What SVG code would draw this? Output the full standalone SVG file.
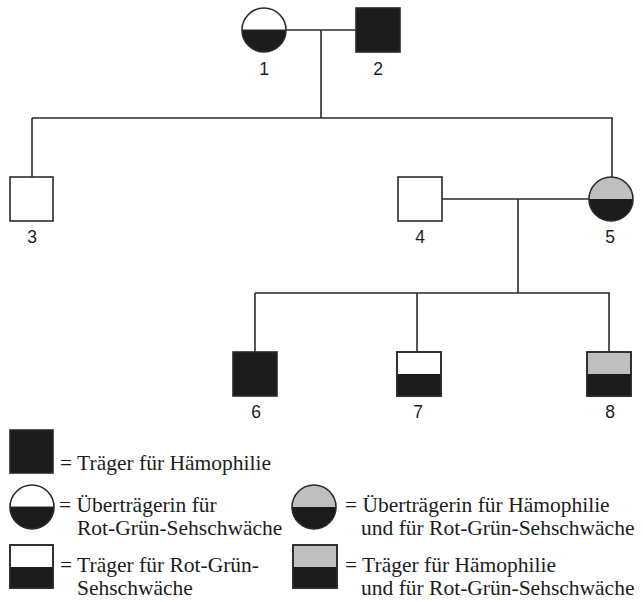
<svg xmlns="http://www.w3.org/2000/svg" width="643" height="602" viewBox="0 0 643 602">
<style>
.ln{stroke:#2a2a2a;stroke-width:1.6;fill:none}
.o{stroke:#2a2a2a;stroke-width:1.6}
.w{fill:#ffffff}
.b{fill:#1c1c1c}
.g{fill:#bfbfbf}
.num{font-family:"Liberation Sans",Arial,sans-serif;font-size:17.5px;fill:#1c1c1c;text-anchor:middle}
.lg{font-family:"Liberation Serif","Times New Roman",serif;font-size:21.5px;fill:#1c1c1c}
</style>
<defs>
<clipPath id="cbot"><rect x="-30" y="0" width="60" height="30"/></clipPath>
<g id="halfCircleW">
<circle r="22" class="w"/>
<circle r="22" class="b" clip-path="url(#cbot)"/>
<line x1="-22" y1="0" x2="22" y2="0" stroke="#2a2a2a" stroke-width="1.2"/>
<circle r="22" class="ln"/>
</g>
<g id="halfCircleG">
<circle r="22" class="g"/>
<circle r="22" class="b" clip-path="url(#cbot)"/>
<circle r="22" class="ln"/>
</g>
</defs>
<g id="connectors">
<line class="ln" x1="286" y1="30" x2="356" y2="30"/>
<line class="ln" x1="321" y1="30" x2="321" y2="118"/>
<line class="ln" x1="32" y1="118" x2="613" y2="118"/>
<line class="ln" x1="32" y1="118" x2="32" y2="177"/>
<line class="ln" x1="612" y1="118" x2="612" y2="177"/>
<line class="ln" x1="442" y1="199" x2="590" y2="199"/>
<line class="ln" x1="518" y1="199" x2="518" y2="293"/>
<line class="ln" x1="255" y1="293" x2="610" y2="293"/>
<line class="ln" x1="255" y1="293" x2="255" y2="352"/>
<line class="ln" x1="417" y1="293" x2="417" y2="352"/>
<line class="ln" x1="609" y1="293" x2="609" y2="352"/>
</g>
<g id="n1">
<use href="#halfCircleW" x="264" y="30"/>
<text class="num" x="264" y="75">1</text>
</g>
<g id="n2">
<rect class="b o" x="356" y="8" width="44" height="44"/>
<text class="num" x="378" y="75">2</text>
</g>
<g id="n3">
<rect class="w o" x="10" y="177" width="43" height="44"/>
<text class="num" x="32" y="243">3</text>
</g>
<g id="n4">
<rect class="w o" x="398" y="177" width="44" height="44"/>
<text class="num" x="420" y="243">4</text>
</g>
<g id="n5">
<use href="#halfCircleG" x="611" y="199"/>
<text class="num" x="610" y="243">5</text>
</g>
<g id="n6">
<rect class="b o" x="233" y="352" width="44" height="44"/>
<text class="num" x="256" y="418">6</text>
</g>
<g id="n7">
<rect class="w o" x="397" y="352" width="44" height="44"/>
<rect class="b" x="397" y="374" width="44" height="22"/>
<rect class="ln" x="397" y="352" width="44" height="44"/>
<text class="num" x="418" y="418">7</text>
</g>
<g id="n8">
<rect class="g o" x="587" y="352" width="44" height="44"/>
<rect class="b" x="587" y="374" width="44" height="22"/>
<rect class="ln" x="587" y="352" width="44" height="44"/>
<text class="num" x="610" y="418">8</text>
</g>
<g id="legend">
<rect class="b o" x="10" y="430" width="43" height="43"/>
<text class="lg" x="60" y="470">= Träger für Hämophilie</text>
<use href="#halfCircleW" x="32" y="507"/>
<text class="lg" x="59" y="512">= Überträgerin für</text>
<text class="lg" x="77" y="535">Rot-Grün-Sehschwäche</text>
<use href="#halfCircleG" x="314" y="507"/>
<text class="lg" x="345" y="512">= Überträgerin für Hämophilie</text>
<text class="lg" x="361" y="535">und für Rot-Grün-Sehschwäche</text>
<rect class="w o" x="10" y="545" width="43" height="43"/>
<rect class="b" x="10" y="567" width="43" height="21"/>
<rect class="ln" x="10" y="545" width="43" height="43"/>
<text class="lg" x="60" y="572">= Träger für Rot-Grün-</text>
<text class="lg" x="77" y="595">Sehschwäche</text>
<rect class="g o" x="293" y="545" width="44" height="43"/>
<rect class="b" x="293" y="567" width="44" height="21"/>
<rect class="ln" x="293" y="545" width="44" height="43"/>
<text class="lg" x="345" y="572">= Träger für Hämophilie</text>
<text class="lg" x="361" y="595">und für Rot-Grün-Sehschwäche</text>
</g>
</svg>
